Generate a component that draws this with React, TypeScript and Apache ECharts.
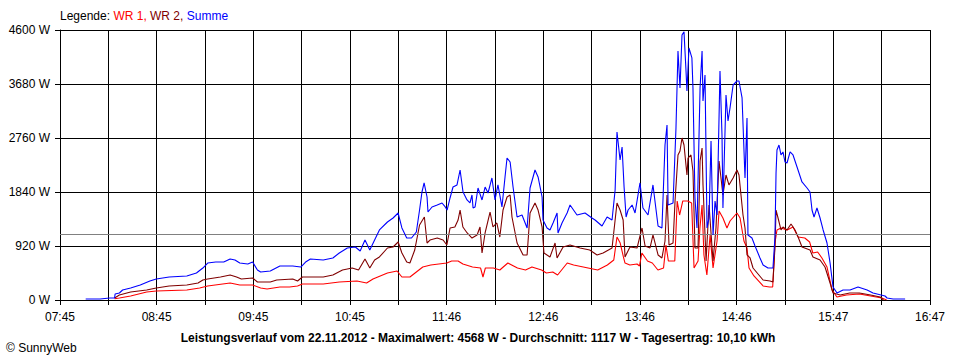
import React, { useEffect, useRef } from "react";
import * as echarts from "echarts";

const timeLabels = ["07:45", "08:45", "09:45", "10:45", "11:46", "12:46", "13:46", "14:46", "15:47", "16:47"];
const averageW = 1117;
const titleText = "Leistungsverlauf vom 22.11.2012 - Maximalwert: 4568 W - Durchschnitt: 1117 W - Tagesertrag: 10,10 kWh";

const wr1: [string, number][] = [
  ["08:19", 20], ["08:22", 34], ["08:29", 68], ["08:39", 136], ["08:45", 153], ["09:04", 170], ["09:12", 204],
  ["09:17", 239], ["09:31", 290], ["09:37", 256], ["09:45", 256], ["09:50", 204], ["09:54", 187], ["10:02", 222],
  ["10:08", 222], ["10:13", 239], ["10:16", 273], ["10:29", 273], ["10:39", 307], ["10:50", 324], ["10:56", 290],
  ["11:00", 358], ["11:09", 460], ["11:15", 494], ["11:18", 392], ["11:23", 392], ["11:27", 477], ["11:31", 562],
  ["11:36", 596], ["11:46", 630], ["11:49", 665], ["11:53", 665], ["11:56", 613], ["12:02", 562], ["12:07", 545],
  ["12:08:30", 392], ["12:10", 545], ["12:15", 545], ["12:19", 511], ["12:24", 630], ["12:30", 545], ["12:35", 511],
  ["12:39", 562], ["12:45", 511], ["12:48", 460], ["12:52", 477], ["12:55", 426], ["13:01", 630], ["13:05", 596],
  ["13:11", 562], ["13:20", 511], ["13:26", 596], ["13:30", 682], ["13:32", 1073], ["13:34", 971], ["13:36", 733],
  ["13:37", 630], ["13:40", 596], ["13:44:30", 613], ["13:46", 579], ["13:47:30", 801], ["13:51", 665], ["13:54", 630],
  ["13:57:30", 511], ["14:01", 545], ["14:02:30", 937], ["14:04", 665], ["14:08", 665], ["14:09:30", 1687],
  ["14:11", 1448], ["14:13", 1687], ["14:16", 1687], ["14:18:30", 1653], ["14:20", 545], ["14:22:30", 665],
  ["14:23:40", 1227], ["14:25", 1619], ["14:26:10", 767], ["14:28", 426], ["14:30", 1108], ["14:31:50", 545],
  ["14:34:20", 1005], ["14:35:35", 1516], ["14:38", 1397], ["14:40:30", 1227], ["14:42:25", 1346], ["14:46:45", 1482],
  ["14:48:40", 1397], ["14:51:05", 1005], ["14:53", 886], ["14:54:15", 545], ["14:57:20", 409], ["15:03", 239],
  ["15:07", 222], ["15:09", 222], ["15:10:25", 971], ["15:11:40", 1193], ["15:14:10", 1227], ["15:18", 1193],
  ["15:21:40", 1244], ["15:24:50", 1073], ["15:29", 1056], ["15:32", 988], ["15:34", 801], ["15:37", 818],
  ["15:39:40", 716], ["15:42:50", 562], ["15:46", 170], ["15:49", 51], ["15:55", 85], ["16:03", 102], ["16:10", 68],
  ["16:17", 34], ["16:20", 0],
];

const wr2: [string, number][] = [
  ["08:19", 34], ["08:22", 85], ["08:29", 136], ["08:39", 170], ["08:45", 204], ["08:53", 239], ["09:04", 256],
  ["09:11", 290], ["09:14", 341], ["09:17", 358], ["09:25", 392], ["09:31", 426], ["09:35", 392], ["09:38", 358],
  ["09:45", 375], ["09:48", 307], ["09:56", 307], ["10:00", 341], ["10:10", 358], ["10:13", 324], ["10:16", 392],
  ["10:29", 392], ["10:35", 426], ["10:41", 511], ["10:47", 545], ["10:51", 511], ["10:55", 699], ["10:58", 545],
  ["11:01", 682], ["11:04", 733], ["11:09", 886], ["11:12:30", 903], ["11:15:40", 988], ["11:18", 801], ["11:21", 647],
  ["11:23", 630], ["11:26", 852], ["11:29", 1278], ["11:32", 1414], ["11:33:40", 971], ["11:35:30", 1022],
  ["11:40", 1056], ["11:43:40", 1022], ["11:46", 937], ["11:48", 1227], ["11:51", 1244], ["11:53", 1363],
  ["11:54:15", 1533], ["11:56", 1244], ["11:58:40", 1142], ["12:01:40", 1056], ["12:04:50", 1108], ["12:06:40", 1244],
  ["12:07:55", 801], ["12:09:50", 1142], ["12:12:55", 1499], ["12:14:45", 1244], ["12:17:10", 1312], ["12:19", 1073],
  ["12:21", 1533], ["12:23:30", 1755], ["12:25:25", 1789], ["12:26:35", 1414], ["12:29:45", 971], ["12:33:30", 767],
  ["12:36", 767], ["12:37:50", 1482], ["12:40:55", 1653], ["12:42:50", 1533], ["12:45:20", 1244], ["12:46:30", 801],
  ["12:50:15", 733], ["12:53:25", 971], ["12:54:40", 716], ["12:58:25", 903], ["13:02:45", 937], ["13:09", 886],
  ["13:15", 852], ["13:19:35", 767], ["13:23:20", 801], ["13:28:55", 886], ["13:32", 1653], ["13:33:55", 1533],
  ["13:35:50", 1363], ["13:37", 733], ["13:40:05", 903], ["13:44:30", 886], ["13:47:35", 1227], ["13:49:30", 920],
  ["13:52:35", 886], ["13:54:25", 1108], ["13:57:35", 767], ["14:00", 716], ["14:01:55", 1005], ["14:03:10", 1789],
  ["14:04:25", 937], ["14:06:55", 971], ["14:08:10", 1687], ["14:10", 2471], ["14:11:15", 2539], ["14:12:30", 2760],
  ["14:13:45", 2641], ["14:15:35", 2130], ["14:16:15", 2419], ["14:18:05", 2471], ["14:19:20", 2198],
  ["14:20:35", 886], ["14:22:30", 886], ["14:23:45", 2368], ["14:25", 2590], ["14:25:35", 1960], ["14:27:30", 665],
  ["14:29:20", 1619], ["14:31:50", 665], ["14:33:40", 1227], ["14:35:35", 2368], ["14:38", 1789], ["14:39:55", 2130],
  ["14:41:45", 1960], ["14:44:20", 2079], ["14:46:45", 2215], ["14:48", 2130], ["14:50:30", 1448], ["14:51:45", 1227],
  ["14:53", 767], ["14:54:55", 716], ["14:56:45", 545], ["15:03", 341], ["15:07:20", 324], ["15:09:10", 307],
  ["15:10:25", 903], ["15:11:05", 1533], ["15:12:20", 1397], ["15:14:10", 1193], ["15:15:25", 1244], ["15:17:55", 1193],
  ["15:20:25", 1295], ["15:22:55", 1193], ["15:24:50", 1073], ["15:27:15", 903], ["15:32:15", 852], ["15:34:05", 733],
  ["15:38:30", 682], ["15:41:35", 562], ["15:44:45", 290], ["15:46:35", 119], ["15:51", 85], ["15:57", 119],
  ["16:03", 119], ["16:10", 85], ["16:16", 51], ["16:18", 0],
];

const summe: [string, number][] = [
  ["08:01", 17], ["08:10", 17], ["08:16", 34], ["08:19", 34], ["08:19:20", 102], ["08:22", 119], ["08:24", 170],
  ["08:29", 204], ["08:35", 256], ["08:41", 324], ["08:45", 358], ["08:53", 392], ["09:04", 409], ["09:10", 460],
  ["09:14", 545], ["09:17", 630], ["09:22", 647], ["09:27", 647], ["09:31", 699], ["09:34", 682], ["09:37", 630],
  ["09:42", 613], ["09:45", 647], ["09:48", 511], ["09:50", 477], ["09:56", 494], ["10:02", 579], ["10:10", 579],
  ["10:15", 562], ["10:18", 647], ["10:21", 699], ["10:29", 682], ["10:35", 716], ["10:39", 801], ["10:44", 886],
  ["10:49", 903], ["10:52", 835], ["10:55", 1022], ["10:58", 852], ["11:01", 1022], ["11:04", 1193], ["11:09", 1329],
  ["11:12:30", 1397], ["11:15:40", 1482], ["11:18", 1227], ["11:21", 1056], ["11:24", 1056], ["11:27", 1159],
  ["11:29", 1533], ["11:30:30", 1840], ["11:31:50", 1994], ["11:33:40", 1755], ["11:34:15", 1499], ["11:36:45", 1585],
  ["11:40", 1619], ["11:43", 1653], ["11:45", 1585], ["11:46:10", 1533], ["11:48", 1738], ["11:49:50", 1925],
  ["11:52:20", 1960], ["11:54:15", 2215], ["11:56:05", 1840], ["11:58:35", 1704], ["12:00:25", 1653], ["12:01:40", 1789],
  ["12:02:20", 1567], ["12:03:35", 1585], ["12:05:25", 1908], ["12:07:55", 1704], ["12:09:50", 1925], ["12:11:40", 1823],
  ["12:14:05", 2079], ["12:16", 1704], ["12:17:50", 1960], ["12:20:20", 1585], ["12:22:15", 2096], ["12:23:30", 2419],
  ["12:25:25", 2351], ["12:27:15", 1925], ["12:29:45", 1414], ["12:32:50", 1448], ["12:36", 1227], ["12:37:50", 1908],
  ["12:40:55", 2215], ["12:42:50", 2096], ["12:45:20", 1755], ["12:45:55", 1363], ["12:48:25", 1227], ["12:50:15", 1193],
  ["12:52:10", 1312], ["12:54:40", 1482], ["12:55:15", 1142], ["12:57:45", 1312], ["13:00:55", 1482], ["13:02:45", 1619],
  ["13:07:05", 1448], ["13:12:05", 1482], ["13:16:25", 1397], ["13:18:20", 1363], ["13:22:40", 1261], ["13:25:50", 1414],
  ["13:28:55", 1363], ["13:30:50", 1874], ["13:32", 2863], ["13:33:55", 2385], ["13:35:10", 2607], ["13:36:25", 1925],
  ["13:37:40", 1414], ["13:38:55", 1533], ["13:41:25", 1619], ["13:43:15", 1482], ["13:46:20", 1994], ["13:48:10", 1567],
  ["13:51:20", 1448], ["13:54:25", 1960], ["13:57:35", 1261], ["14:00", 1227], ["14:01:55", 2641], ["14:03:10", 2982],
  ["14:03:50", 1619], ["14:06:55", 1653], ["14:08:45", 2931], ["14:10", 4243], ["14:11:15", 3612], ["14:12:30", 4516],
  ["14:13:45", 4568], ["14:15", 3902], ["14:15:35", 3561], ["14:16:50", 4294], ["14:18:40", 4124], ["14:19:20", 3612],
  ["14:20:35", 1738], ["14:21:50", 1227], ["14:23:45", 3612], ["14:25", 4243], ["14:25:35", 3391], ["14:26:50", 3834],
  ["14:28:05", 1227], ["14:29:20", 1397], ["14:30:35", 2709], ["14:31:50", 1108], ["14:33:05", 1687], ["14:34:20", 1448],
  ["14:36:10", 3902], ["14:37:25", 2811], ["14:38", 1567], ["14:39:55", 3493], ["14:41:10", 3050], ["14:42:25", 3272],
  ["14:44:20", 3663], ["14:46:45", 3731], ["14:48", 3731], ["14:49:55", 3442], ["14:51:45", 2079], ["14:53", 3101],
  ["14:53:35", 1108], ["14:56:05", 1056], ["14:58", 920], ["15:01:05", 716], ["15:03", 596], ["15:06:05", 545],
  ["15:09:10", 545], ["15:10:25", 1073], ["15:11:05", 2164], ["15:11:40", 2556], ["15:12:55", 2641], ["15:14:10", 2471],
  ["15:15:25", 2522], ["15:16:40", 2351], ["15:17:55", 2334], ["15:19:50", 2522], ["15:21:40", 2471], ["15:24:10", 2266],
  ["15:27:15", 2011], ["15:30:25", 1908], ["15:32:15", 1840], ["15:33:30", 1533], ["15:34:45", 1414], ["15:36:35", 1567],
  ["15:38:30", 1397], ["15:40:25", 1193], ["15:42:50", 971], ["15:44:45", 630], ["15:46:35", 222], ["15:49:05", 119],
  ["15:52:50", 170], ["15:57:10", 170], ["16:02:10", 222], ["16:07:50", 170], ["16:11:30", 119], ["16:19", 68],
  ["16:20:15", 34], ["16:24", 17], ["16:31:30", 17],
];

const START_MIN = 7 * 60 + 45;
const END_MIN = 16 * 60 + 47;
const toOffset = (t: string) => {
  const p = t.split(":").map(Number);
  return p[0] * 60 + p[1] + (p[2] || 0) / 60 - START_MIN;
};
const toSeries = (arr: [string, number][]) => arr.map(([t, v]) => [toOffset(t), v]);

const FONT = "'Liberation Sans', Arial, sans-serif";

export default function App() {
  const ref = useRef<HTMLDivElement>(null);
  useEffect(() => {
    if (!ref.current) return;
    const chart = echarts.init(ref.current, null, { renderer: "svg" });
    const span = END_MIN - START_MIN;
    const lineCommon = { type: "line" as const, showSymbol: false, symbol: "none", smooth: false };
    chart.setOption({
      animation: false,
      backgroundColor: "#ffffff",
      grid: { left: 60, top: 30, right: 30, bottom: 60, containLabel: false },
      xAxis: {
        type: "value",
        min: 0,
        max: span,
        interval: span / 18,
        axisLine: { show: true, lineStyle: { color: "#000", width: 1 } },
        axisTick: { show: true, length: 5, lineStyle: { color: "#000" } },
        splitLine: { show: true, lineStyle: { color: "#000", width: 1 } },
        axisLabel: {
          margin: 11,
          color: "#000",
          fontFamily: FONT,
          fontSize: 12,
          showMaxLabel: true,
          showMinLabel: true,
          formatter: (_v: number, i: number) => (i % 2 === 0 ? timeLabels[i / 2] ?? "" : ""),
        },
      },
      yAxis: {
        type: "value",
        min: 0,
        max: 4600,
        interval: 920,
        axisLine: { show: true, lineStyle: { color: "#000", width: 1 } },
        axisTick: { show: true, length: 5, lineStyle: { color: "#000" } },
        splitLine: { show: true, lineStyle: { color: "#000", width: 1 } },
        axisLabel: {
          margin: 10,
          color: "#000",
          fontFamily: FONT,
          fontSize: 12,
          formatter: (v: number) => `${v} W`,
        },
      },
      series: [
        {
          ...lineCommon,
          name: "WR 1",
          data: toSeries(wr1),
          lineStyle: { color: "#ff0000", width: 1.1 },
          itemStyle: { color: "#ff0000" },
          z: 3,
          markLine: {
            silent: true,
            symbol: "none",
            label: { show: false },
            lineStyle: { color: "#808080", width: 1.2, type: "solid" },
            data: [{ yAxis: averageW }],
          },
        },
        {
          ...lineCommon,
          name: "WR 2",
          data: toSeries(wr2),
          lineStyle: { color: "#800000", width: 1.1 },
          itemStyle: { color: "#800000" },
          z: 4,
        },
        {
          ...lineCommon,
          name: "Summe",
          data: toSeries(summe),
          lineStyle: { color: "#0000ff", width: 1.1 },
          itemStyle: { color: "#0000ff" },
          z: 5,
        },
      ],
      graphic: [
        {
          type: "text",
          left: 60,
          top: 10,
          style: {
            text: "{k|Legende: }{a|WR 1, }{b|WR 2, }{c|Summe}",
            font: `12px ${FONT}`,
            rich: {
              k: { fill: "#000", fontFamily: FONT, fontSize: 12 },
              a: { fill: "#ff0000", fontFamily: FONT, fontSize: 12 },
              b: { fill: "#800000", fontFamily: FONT, fontSize: 12 },
              c: { fill: "#0000ff", fontFamily: FONT, fontSize: 12 },
            },
          },
        },
        {
          type: "text",
          x: 478,
          y: 338,
          style: {
            text: titleText,
            font: `bold 12px ${FONT}`,
            fill: "#000",
            align: "center",
            verticalAlign: "middle",
          },
        },
        {
          type: "text",
          x: 6,
          y: 348,
          style: {
            text: "© SunnyWeb",
            font: `12px ${FONT}`,
            fill: "#000",
            align: "left",
            verticalAlign: "middle",
          },
        },
      ],
    });
    return () => chart.dispose();
  }, []);
  return (
    <div
      ref={ref}
      style={{ position: "fixed", left: 0, top: 0, width: 960, height: 360, background: "#fff" }}
    />
  );
}
